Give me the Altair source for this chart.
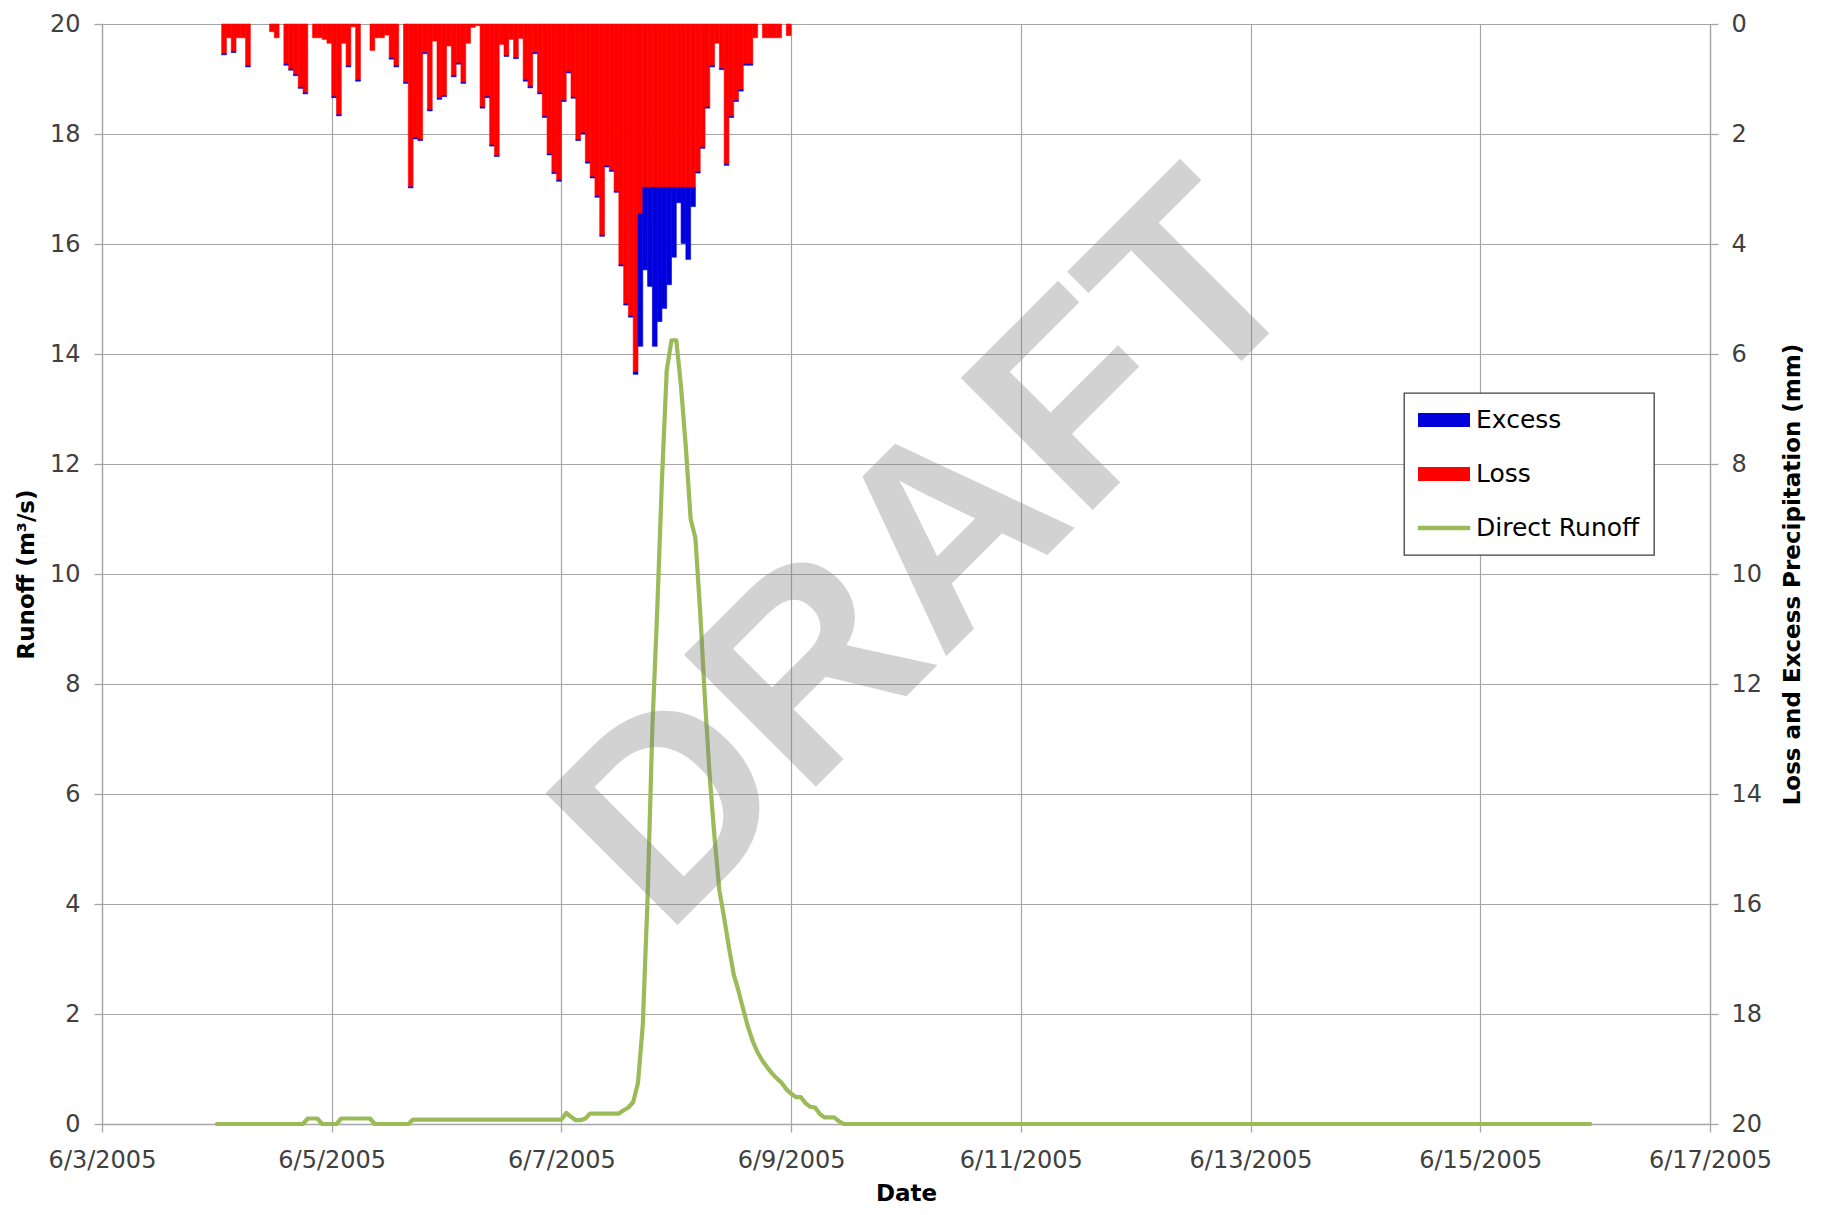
import altair as alt
import pandas as pd

# ---------------- data ----------------
# hourly loss / excess precipitation (mm), first bar covers 6/4/2005 01:00-02:00
first_bar_hour = 25  # hours after 6/3/2005 00:00
loss = [
    0.54, 0.25, 0.50, 0.25, 0.25, 0.76, 0.00, 0.00, 0.00, 0.00,
    0.14, 0.25, 0.00, 0.73, 0.82, 0.92, 1.15, 1.25, 0.00, 0.25,
    0.25, 0.28, 0.35, 1.32, 1.65, 0.35, 0.76, 0.05, 1.02, 0.00,
    0.00, 0.48, 0.25, 0.25, 0.20, 0.62, 0.76, 0.00, 1.06, 2.96,
    2.07, 2.10, 0.52, 1.56, 0.31, 1.35, 1.30, 0.40, 0.94, 0.71,
    1.06, 0.35, 0.06, 0.03, 1.51, 1.32, 2.20, 2.39, 0.37, 0.57,
    0.28, 0.61, 0.26, 1.02, 1.14, 0.52, 1.25, 1.68, 2.36, 2.70,
    2.84, 1.39, 0.87, 1.33, 2.10, 1.98, 2.51, 2.78, 3.13, 3.84,
    2.58, 2.66, 3.04, 4.38, 5.09, 5.31, 6.33, 3.45, 2.97, 2.97,
    2.97, 2.97, 2.97, 2.97, 2.97, 2.97, 2.97, 2.97, 2.97, 2.69,
    2.24, 1.51, 0.76, 0.35, 0.81, 2.55, 1.68, 1.39, 1.20, 0.73,
    0.73, 0.25, 0.00, 0.25, 0.25, 0.25, 0.25, 0.00, 0.21,
]
excess = [
    0.02, 0.00, 0.02, 0.00, 0.00, 0.02, 0.00, 0.00, 0.00, 0.00,
    0.00, 0.00, 0.00, 0.02, 0.02, 0.02, 0.02, 0.02, 0.00, 0.00,
    0.00, 0.00, 0.00, 0.02, 0.02, 0.00, 0.02, 0.00, 0.02, 0.00,
    0.00, 0.00, 0.00, 0.00, 0.00, 0.02, 0.02, 0.00, 0.02, 0.02,
    0.02, 0.02, 0.02, 0.02, 0.00, 0.02, 0.02, 0.00, 0.02, 0.02,
    0.02, 0.00, 0.00, 0.00, 0.02, 0.02, 0.02, 0.02, 0.00, 0.02,
    0.00, 0.02, 0.00, 0.02, 0.02, 0.02, 0.02, 0.02, 0.02, 0.02,
    0.02, 0.02, 0.02, 0.02, 0.02, 0.02, 0.02, 0.02, 0.02, 0.02,
    0.02, 0.02, 0.02, 0.02, 0.02, 0.02, 0.04, 2.41, 1.50, 1.80,
    2.89, 2.44, 2.20, 1.77, 1.27, 0.28, 1.02, 1.31, 0.35, 0.02,
    0.02, 0.02, 0.02, 0.00, 0.02, 0.02, 0.02, 0.02, 0.02, 0.02,
    0.02, 0.00, 0.00, 0.00, 0.00, 0.00, 0.00, 0.00, 0.00,
]

# hourly direct runoff (m3/s), first value at 6/4/2005 00:00
first_runoff_hour = 24
runoff = (
    [0.0] * 19                                   # 6/4 00:00 - 18:00
    + [0.1, 0.1, 0.1]
    + [0.0] * 4
    + [0.1] * 7
    + [0.0] * 8
    + [0.08] * 32                                # to 6/7 00:00
    + [0.2, 0.13, 0.07, 0.07, 0.1, 0.19, 0.19, 0.19, 0.19, 0.19, 0.19, 0.19,
       0.25, 0.3, 0.4, 0.75, 1.8, 4.1, 7.2, 9.3, 11.7, 13.7, 14.25, 14.25,
       13.4, 12.3, 11.0, 10.65, 9.3, 7.7, 6.3, 5.2, 4.25, 3.75, 3.21, 2.72,
       2.42, 2.08, 1.76, 1.5, 1.3, 1.15, 1.03, 0.92, 0.83, 0.75, 0.63, 0.55,
       0.49, 0.49, 0.38, 0.31, 0.3, 0.18, 0.12, 0.12, 0.12, 0.05]
    + [0.0] * 157                                # to 6/15 23:00
)

series_names = ["Excess", "Loss", "Direct Runoff"]
series_colors = ["#0000DC", "#FF0000", "#9BBB59"]
series_shapes = [
    "M-1,-0.27L1,-0.27L1,0.27L-1,0.27Z",
    "M-1,-0.27L1,-0.27L1,0.27L-1,0.27Z",
    "M-1,-0.085L1,-0.085L1,0.085L-1,0.085Z",
]
tick_days = [3, 5, 7, 9, 11, 13, 15, 17]

# ---------------- build tables ----------------
t0 = pd.Timestamp("2005-06-03T00:00:00", tz="UTC")


def ts(h):
    return (t0 + pd.Timedelta(hours=h)).strftime("%Y-%m-%dT%H:%M:%SZ")


def ms(day):
    return int(pd.Timestamp(f"2005-06-{day:02d}", tz="UTC").timestamp() * 1000)


bar_rows = []
for k, (lo, ex) in enumerate(zip(loss, excess)):
    s, e = ts(first_bar_hour + k), ts(first_bar_hour + k + 1)
    if lo > 0:
        bar_rows.append({"start": s, "end": e, "series": "Loss", "y0": 0.0, "y1": lo})
    if ex > 0:
        bar_rows.append({"start": s, "end": e, "series": "Excess", "y0": lo, "y1": lo + ex})
bar_df = pd.DataFrame(bar_rows)

run_df = pd.DataFrame({
    "t": [ts(first_runoff_hour + i) for i in range(len(runoff))],
    "q": runoff,
})

# legend keys only (drawn outside the clipped plot area)
leg_df = pd.DataFrame({"series": series_names, "t": [ts(24)] * 3, "q": [-10.0] * 3})

# ---------------- styling ----------------
GRID = "#A6A6A6"
FONT = "DejaVu Sans"
common_axis = dict(
    labelFont=FONT, labelFontSize=24, labelColor="#404040",
    titleFont=FONT, titleFontSize=23, titleFontWeight="bold", titleColor="#000000",
    domainColor=GRID, domainWidth=1.3, tickColor=GRID, tickWidth=1.3, tickSize=8,
    gridColor=GRID, gridWidth=1.2,
)

x_scale = alt.Scale(type="utc", domain=[ms(3), ms(17)], nice=False)
x_axis = alt.Axis(
    values=[ms(d) for d in tick_days],
    labelExpr="utcFormat(datum.value, '%-m/%-d/%Y')",
    grid=True, labelPadding=16, labelFlush=False, labelOverlap=False,
    title="Date", titlePadding=10, **common_axis,
)

color_scale = alt.Scale(domain=series_names, range=series_colors)

leg_cfg = dict(
    orient="none", legendX=1302, legendY=369, title=None,
    padding=14, clipHeight=26, rowPadding=28, labelOffset=6, labelLimit=400,
    strokeColor="#404040", fillColor="#FFFFFF",
    labelFont=FONT, labelFontSize=25, labelColor="#000000",
    symbolSize=2704, symbolStrokeWidth=0, symbolOpacity=1,
)
legend_layer = alt.Chart(leg_df).mark_point(filled=True, clip=True).encode(
    x=alt.X("t:T", scale=x_scale, axis=x_axis),
    y=alt.Y("q:Q", scale=alt.Scale(domain=[0, 20], nice=False), axis=None),
    color=alt.Color("series:N", scale=color_scale, legend=alt.Legend(**leg_cfg)),
    shape=alt.Shape("series:N", scale=alt.Scale(domain=series_names, range=series_shapes),
                    legend=alt.Legend(**leg_cfg)),
)

bars = alt.Chart(bar_df).mark_rect(strokeWidth=0.6).encode(
    x=alt.X("start:T", scale=x_scale, axis=x_axis),
    x2="end:T",
    y=alt.Y("y0:Q", scale=alt.Scale(domain=[0, 20], reverse=True, nice=False),
            axis=alt.Axis(orient="right", values=list(range(0, 21, 2)), grid=False,
                          labelPadding=13, title="Loss and Excess Precipitation (mm)",
                          titleAngle=270, titleBaseline="top", titlePadding=20,
                          **common_axis)),
    y2="y1:Q",
    color=alt.Color("series:N", scale=color_scale, legend=alt.Legend(**leg_cfg)),
    stroke=alt.Stroke("series:N", scale=color_scale, legend=None),
)

line = alt.Chart(run_df).mark_line(
    color="#9BBB59", strokeWidth=4.2, strokeJoin="round", strokeCap="round"
).encode(
    x=alt.X("t:T", scale=x_scale, axis=x_axis),
    y=alt.Y("q:Q", scale=alt.Scale(domain=[0, 20], nice=False),
            axis=alt.Axis(orient="left", values=list(range(0, 21, 2)), grid=True,
                          labelPadding=14, title="Runoff (m³/s)", titlePadding=11,
                          **common_axis)),
)

watermark = alt.Chart(pd.DataFrame({"w": ["DRAFT"]})).mark_text(
    font="Liberation Sans", fontWeight="bold", fontSize=271, angle=315,
    color="#808080", opacity=0.35, align="center", baseline="middle",
).encode(text="w:N", x=alt.value(830), y=alt.value(532))

chart = alt.layer(legend_layer, line, bars, watermark).resolve_scale(
    y="independent"
).properties(
    width=1608, height=1100,
    padding={"left": 94, "top": 16, "right": 100, "bottom": 83},
    autosize=alt.AutoSizeParams(type="none"),
).configure_view(stroke=None).configure_legend(strokeWidth=1.3)

chart.save("out.html", embed_options={"renderer": "svg", "actions": False})
